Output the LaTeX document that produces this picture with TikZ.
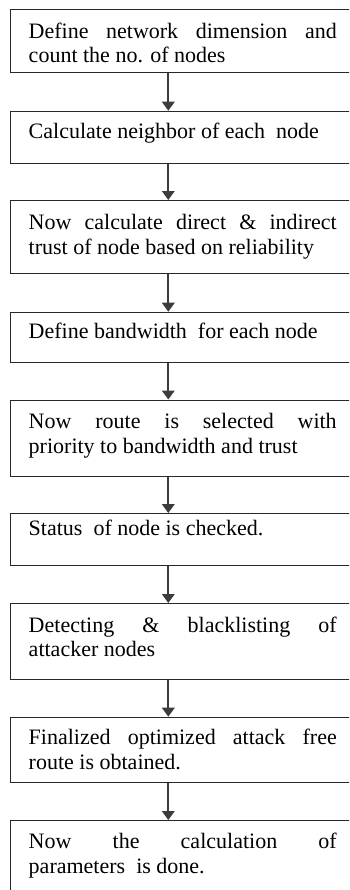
\documentclass[tikz,border=0pt]{standalone}
\usepackage{fontspec}
\setmainfont{Liberation Serif}
\usetikzlibrary{arrows.meta}
\definecolor{boxline}{RGB}{40,40,40}
\definecolor{flowline}{RGB}{60,60,60}
\hyphenpenalty=10000
\hbadness=10000

\begin{document}
\begin{tikzpicture}[x=0.5pt,y=-0.5pt,
    stepbox/.style={draw=boxline, line width=0.65pt, anchor=north west,
        text width=154pt, inner xsep=9.3pt, inner ysep=0pt, align=justify,
        font=\fontsize{11}{12.2}\selectfont},
    flow/.style={draw=flowline, line width=0.9pt,
        -{Triangle[length=4.5pt,width=6.3pt]}}]

    % page frame
    \fill[white] (0,0) rectangle (349,890);
    \useasboundingbox (0,0) rectangle (349,890);
    \clip (0,0) rectangle (349,890);

    % steps of the flow (boxes run out on the right)
    \node[stepbox, text height=14.25pt, text depth=17.25pt] (s1) at (9.5,9)
        {Define network dimension and\linebreak count the no. of nodes};
    \node[stepbox, text height=13.8pt, text depth=12.2pt] (s2) at (9.5,110.7)
        {Calculate neighbor of each~ node};
    \node[stepbox, text height=14.5pt, text depth=22pt] (s3) at (9.5,200)
        {Now calculate direct \& indirect\linebreak trust of node based on reliability};
    \node[stepbox, text height=13.3pt, text depth=11.7pt] (s4) at (9.5,311.7)
        {Define bandwidth~ for each node};
    \node[stepbox, text height=14.4pt, text depth=23.85pt] (s5) at (9.5,399.5)
        {Now route is selected with\linebreak priority to bandwidth and trust};
    \node[stepbox, text height=11pt, text depth=15pt] (s6) at (9.5,513)
        {Status~ of node is checked.};
    \node[stepbox, text height=14.35pt, text depth=23.65pt] (s7) at (9.5,603)
        {Detecting \& blacklisting of\linebreak attacker nodes};
    \node[stepbox, text height=13.8pt, text depth=18.7pt] (s8) at (9.5,716.7)
        {Finalized optimized attack free\linebreak route is obtained.};
    \node[stepbox, text height=14.15pt, text depth=40pt] (s9) at (9.5,820)
        {Now the calculation of\linebreak parameters~ is done.};

    % arrows between the steps
    \coordinate (axis) at (168.3,0);
    \foreach \a/\b in {s1/s2,s2/s3,s3/s4,s4/s5,s5/s6,s6/s7,s7/s8,s8/s9}
        \draw[flow] (\a.south -| axis) -- (\b.north -| axis);
\end{tikzpicture}
\end{document}
